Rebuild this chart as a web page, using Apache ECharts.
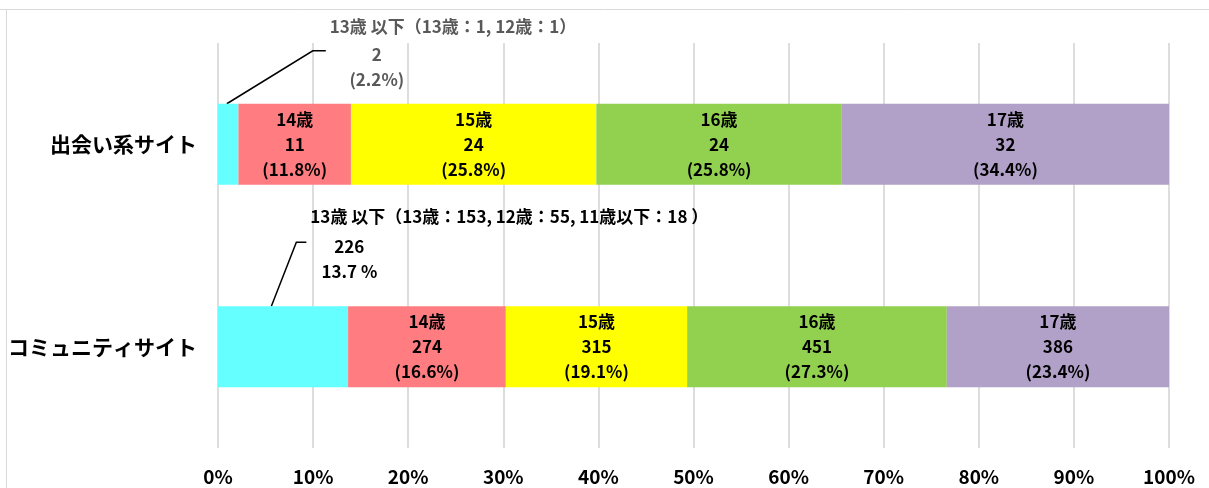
<!DOCTYPE html>
<html>
<head>
<meta charset="utf-8">
<script src="https://cdn.jsdelivr.net/npm/echarts@6/dist/echarts.min.js"></script>
<style>
  html, body { margin: 0; padding: 0; background: #fff; }
  #chart { width: 1209px; height: 488px; }
</style>
</head>
<body>
<div id="chart"></div>
<script>
// categories (top to bottom)
const sites = ['出会い系サイト', 'コミュニティサイト']
const ageGroups = ['13歳以下', '14歳', '15歳', '16歳', '17歳']
const colors = ['#66FFFF', '#FF7C80', '#FFFF00', '#92D050', '#B1A0C7']

// counts per age group, [出会い系, コミュニティ]
const under13 = [2, 226]
const age14 = [11, 274]
const age15 = [24, 315]
const age16 = [24, 451]
const age17 = [32, 386]

// percentages as printed
const under13Pct = ['2.2', '13.7']
const age14Pct = ['11.8', '16.6']
const age15Pct = ['25.8', '19.1']
const age16Pct = ['25.8', '27.3']
const age17Pct = ['34.4', '23.4']

// breakdown notes for the 13歳以下 group
const under13Notes = ['13歳 以下（13歳：1, 12歳：1）', '13歳 以下（13歳：153, 12歳：55, 11歳以下：18 ）']

const xTicks = [0, 100, 10]

const counts = [under13, age14, age15, age16, age17]
const pcts = [under13Pct, age14Pct, age15Pct, age16Pct, age17Pct]
const totals = sites.map((_, i) => counts.reduce((s, c) => s + c[i], 0))

const FONT = "'Noto Sans CJK JP', 'Noto Sans', sans-serif"

const chart = echarts.init(document.getElementById('chart'))

const series = ageGroups.map((name, k) => ({
  name: name,
  type: 'bar',
  stack: 'total',
  barWidth: 81,
  itemStyle: { color: colors[k] },
  label: {
    show: k > 0,
    position: 'inside',
    fontFamily: FONT,
    fontSize: 17,
    fontWeight: 'bold',
    color: '#000',
    lineHeight: 25,
    formatter: p => name + '\n' + counts[k][p.dataIndex] + '\n(' + pcts[k][p.dataIndex] + '%)'
  },
  data: counts[k].map((v, i) => v / totals[i] * 100)
}))

chart.setOption({
  animation: false,
  grid: { left: 218, right: 40, top: 43, bottom: 40 },
  xAxis: {
    type: 'value',
    min: xTicks[0],
    max: xTicks[1],
    interval: xTicks[2],
    axisLine: { show: false },
    axisTick: { show: false },
    splitLine: { lineStyle: { color: '#DDDDDD', width: 2 } },
    axisLabel: {
      margin: 19,
      formatter: '{value}%',
      fontFamily: FONT,
      fontSize: 19,
      fontWeight: 'bold',
      color: '#000'
    }
  },
  yAxis: {
    type: 'category',
    inverse: true,
    data: sites,
    axisLine: { show: false },
    axisTick: { show: false },
    axisLabel: {
      margin: 21,
      fontFamily: FONT,
      fontSize: 21,
      fontWeight: 'bold',
      color: '#000'
    }
  },
  series: series
})

// external labels for the 13歳以下 segment, anchored on the bars
function buildNotes() {
  const g = [
    { type: 'line', shape: { x1: 0, y1: 9.5, x2: 1209, y2: 9.5 }, style: { stroke: '#D9D9D9', lineWidth: 1 } },
    { type: 'line', shape: { x1: 6.5, y1: 9, x2: 6.5, y2: 488 }, style: { stroke: '#D9D9D9', lineWidth: 1 } }
  ]
  const textColors = ['#595959', '#000']
  // [position inside segment, elbow dx, elbow dy, tail length]
  const kinks = [[0.43, 86, -53, 13], [0.41, 25, -64, 10]]
  sites.forEach((site, i) => {
    const share = under13[i] / totals[i] * 100
    const p = chart.convertToPixel({ gridIndex: 0 }, [share * kinks[i][0], site])
    const top = p[1] - 40.5
    const sx = p[0]
    const ex = sx + kinks[i][1]
    const ey = top + kinks[i][2]
    g.push({
      type: 'polyline',
      shape: { points: [[sx, top], [ex, ey], [ex + kinks[i][3], ey]] },
      style: { stroke: '#000', lineWidth: 1.5, fill: null }
    })
    const cx = i === 0 ? ex + 64 : ex + 53
    const lines = [counts[0][i] + '', i === 0 ? '(' + under13Pct[i] + '%)' : under13Pct[i] + ' %']
    g.push({
      type: 'text',
      x: i === 0 ? ex + 17 : ex + 14,
      y: ey - (i === 0 ? 24 : 26),
      style: {
        text: under13Notes[i],
        font: 'bold 17px ' + FONT,
        fill: textColors[i],
        textAlign: 'left',
        textVerticalAlign: 'middle'
      }
    })
    lines.forEach((t, j) => {
      g.push({
        type: 'text',
        x: cx,
        y: ey + 4 + j * 25,
        style: {
          text: t,
          font: 'bold 17px ' + FONT,
          fill: textColors[i],
          textAlign: 'center',
          textVerticalAlign: 'middle'
        }
      })
    })
  })
  chart.setOption({ graphic: g })
}
buildNotes()
</script>
</body>
</html>
